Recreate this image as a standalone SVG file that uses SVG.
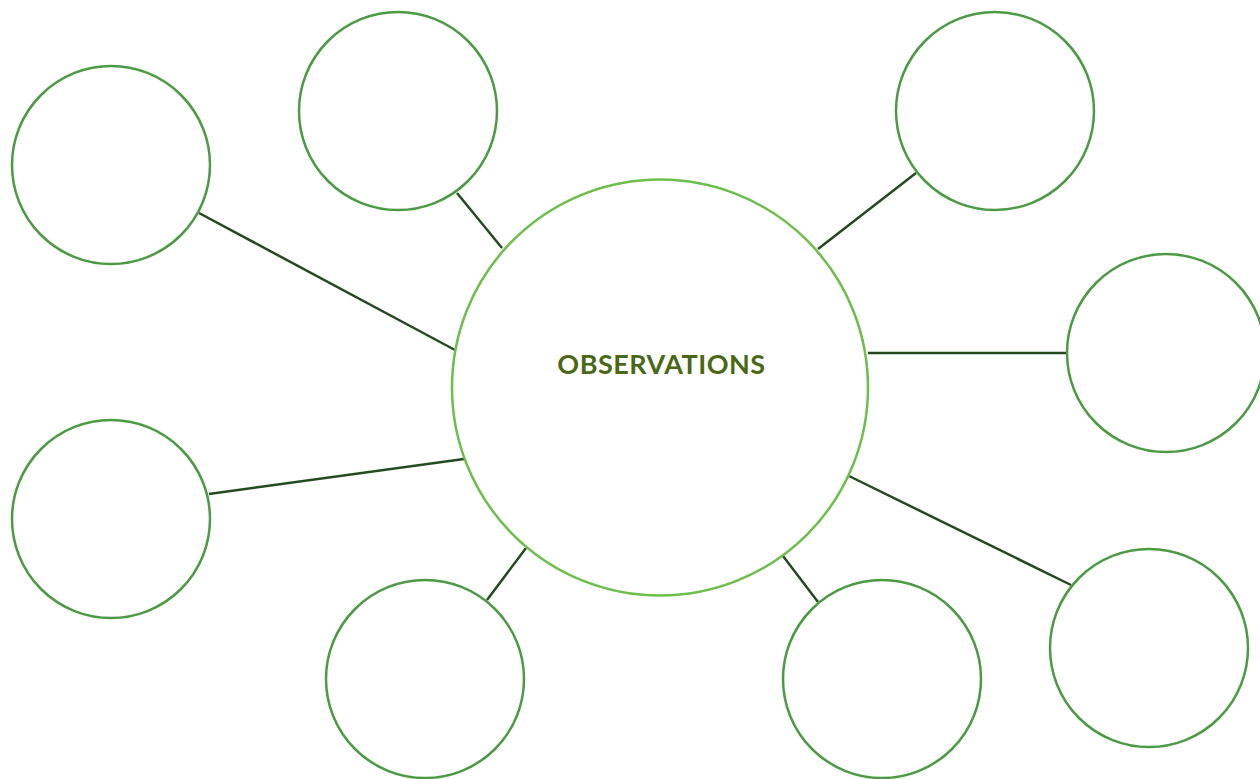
<svg xmlns="http://www.w3.org/2000/svg" width="1260" height="779" viewBox="0 0 1260 779">
<style>
.outer{fill:#fff;stroke:#4c9a44;stroke-width:2.5}
.center{fill:#fff;stroke:#6cbf4a;stroke-width:2.5}
.link{stroke:#244a20;stroke-width:2.5;fill:none}
.title{font-family:Lato,"Open Sans",sans-serif;font-weight:bold;font-size:27px;fill:#4a6816;letter-spacing:0.5px}
</style>
<rect width="1260" height="779" fill="#fff"/>
<g id="connectors">
<line class="link" x1="199" y1="213" x2="455" y2="350"/>
<line class="link" x1="457" y1="193" x2="502" y2="248"/>
<line class="link" x1="916" y1="173" x2="818" y2="249"/>
<line class="link" x1="868" y1="353" x2="1067" y2="353"/>
<line class="link" x1="849" y1="476" x2="1071" y2="585"/>
<line class="link" x1="783" y1="556" x2="818" y2="602"/>
<line class="link" x1="526" y1="548" x2="487" y2="600"/>
<line class="link" x1="209" y1="494" x2="464" y2="459"/>
</g>
<g id="center"><circle class="center" cx="660" cy="387.5" r="208"/><text class="title" x="661.5" y="374" text-anchor="middle">OBSERVATIONS</text></g>
<g id="n1"><circle class="outer" cx="111" cy="165" r="99"/></g>
<g id="n2"><circle class="outer" cx="398" cy="111" r="99"/></g>
<g id="n3"><circle class="outer" cx="995" cy="111" r="99"/></g>
<g id="n4"><circle class="outer" cx="1166" cy="353" r="99"/></g>
<g id="n5"><circle class="outer" cx="1149" cy="648" r="99"/></g>
<g id="n6"><circle class="outer" cx="882" cy="679" r="99"/></g>
<g id="n7"><circle class="outer" cx="425" cy="679" r="99"/></g>
<g id="n8"><circle class="outer" cx="111" cy="519" r="99"/></g>
</svg>
